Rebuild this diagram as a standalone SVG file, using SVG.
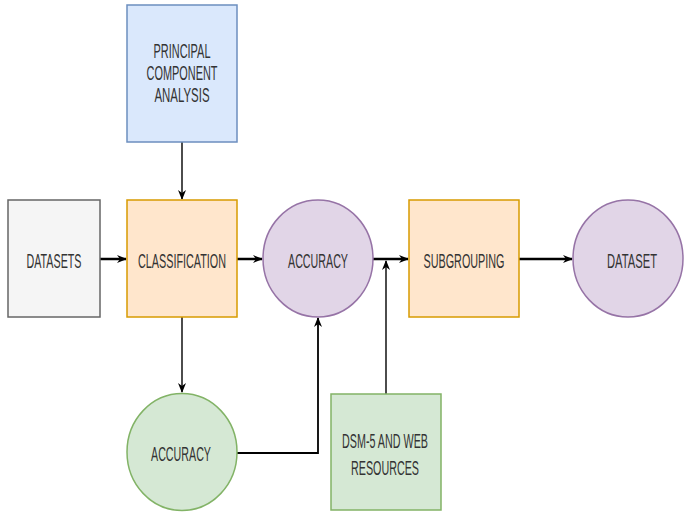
<svg xmlns="http://www.w3.org/2000/svg" width="686" height="512" viewBox="0 0 686 512">
<defs>
<style>
.lbl{font-family:"Liberation Sans",Arial,sans-serif;font-size:20px;fill:#333333;text-anchor:middle}
.gray{fill:#f5f5f5;stroke:#666666;stroke-width:1.5}
.orange{fill:#ffe6cc;stroke:#d79b00;stroke-width:1.5}
.blue{fill:#dae8fc;stroke:#6c8ebf;stroke-width:1.5}
.purple{fill:#e1d5e7;stroke:#9673a6;stroke-width:1.5}
.green{fill:#d5e8d4;stroke:#82b366;stroke-width:1.5}
.h{fill:none;stroke:#000;stroke-width:2.5}
.v{fill:none;stroke:#000;stroke-width:1.4}
</style>
<marker id="arr" viewBox="0 0 10 8" refX="9" refY="4" markerWidth="10" markerHeight="8" markerUnits="userSpaceOnUse" orient="auto">
<path d="M0,0 L10,4 L0,8 L3,4 Z" fill="#000"/>
</marker>
</defs>
<g id="connectors">
<path class="h" d="M100,259 H126" marker-end="url(#arr)"/>
<path class="h" d="M237,259 H262" marker-end="url(#arr)"/>
<path class="h" d="M373,259 H408" marker-end="url(#arr)"/>
<path class="h" d="M519,259 H572" marker-end="url(#arr)"/>
<path class="v" d="M182,142 V199" marker-end="url(#arr)"/>
<path class="v" d="M182,317 V392" marker-end="url(#arr)"/>
<path class="v" d="M237,453 H318 V318" marker-end="url(#arr)" style="stroke-width:1.8"/>
<path class="v" d="M386,394 V261" marker-end="url(#arr)"/>
</g>
<g id="pca">
<rect class="blue" x="127" y="5" width="110" height="137"/>
<text class="lbl" x="182" y="58" textLength="57" lengthAdjust="spacingAndGlyphs">PRINCIPAL</text>
<text class="lbl" x="182" y="80" textLength="71" lengthAdjust="spacingAndGlyphs">COMPONENT</text>
<text class="lbl" x="182" y="102" textLength="55" lengthAdjust="spacingAndGlyphs">ANALYSIS</text>
</g>
<g id="datasets">
<rect class="gray" x="8" y="200" width="92" height="117"/>
<text class="lbl" x="54" y="268" textLength="55" lengthAdjust="spacingAndGlyphs">DATASETS</text>
</g>
<g id="classification">
<rect class="orange" x="127" y="200" width="110" height="117"/>
<text class="lbl" x="182" y="268" textLength="88" lengthAdjust="spacingAndGlyphs">CLASSIFICATION</text>
</g>
<g id="accuracy1">
<ellipse class="purple" cx="318" cy="258.5" rx="55" ry="58.5"/>
<text class="lbl" x="318" y="268" textLength="60" lengthAdjust="spacingAndGlyphs">ACCURACY</text>
</g>
<g id="subgrouping">
<rect class="orange" x="409" y="200" width="110" height="117"/>
<text class="lbl" x="464" y="268" textLength="81" lengthAdjust="spacingAndGlyphs">SUBGROUPING</text>
</g>
<g id="dataset">
<ellipse class="purple" cx="628" cy="258.5" rx="55" ry="58.5"/>
<text class="lbl" x="632" y="268" textLength="50" lengthAdjust="spacingAndGlyphs">DATASET</text>
</g>
<g id="accuracy2">
<ellipse class="green" cx="182" cy="452" rx="55" ry="58.5"/>
<text class="lbl" x="181" y="461" textLength="60" lengthAdjust="spacingAndGlyphs">ACCURACY</text>
</g>
<g id="dsm">
<rect class="green" x="331" y="394" width="110" height="116"/>
<text class="lbl" x="385" y="448" textLength="86" lengthAdjust="spacingAndGlyphs">DSM-5 AND WEB</text>
<text class="lbl" x="385" y="475" textLength="68" lengthAdjust="spacingAndGlyphs">RESOURCES</text>
</g>
</svg>
